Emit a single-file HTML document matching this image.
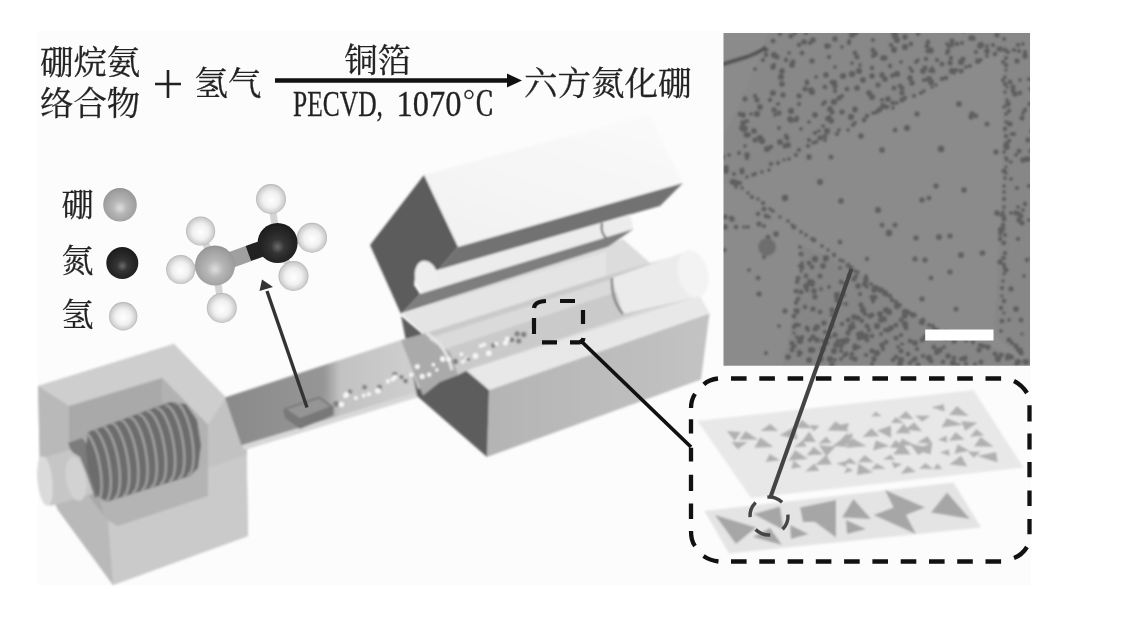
<!DOCTYPE html>
<html lang="zh"><head><meta charset="utf-8"><title>PECVD 六方氮化硼</title>
<style>
html,body{margin:0;padding:0;background:#fff;}
body{width:1132px;height:629px;overflow:hidden;}
svg{display:block;}
.t text{font-family:"Liberation Serif","Noto Serif CJK SC",serif;fill:#242424;stroke:#242424;stroke-width:0.3px;}
</style></head><body>
<svg width="1132" height="629" viewBox="0 0 1132 629">
<defs>
<radialGradient id="gB" cx="0.5" cy="0.55" r="0.6" fx="0.5" fy="0.6"><stop offset="0" stop-color="#dedede"/><stop offset="0.35" stop-color="#b6b6b6"/><stop offset="0.8" stop-color="#9e9e9e"/><stop offset="1" stop-color="#8a8a8a"/></radialGradient>
<radialGradient id="gN" cx="0.5" cy="0.55" r="0.6" fx="0.5" fy="0.6"><stop offset="0" stop-color="#6a6a6a"/><stop offset="0.3" stop-color="#333"/><stop offset="0.9" stop-color="#1c1c1c"/><stop offset="1" stop-color="#2a2a2a"/></radialGradient>
<radialGradient id="gH" cx="0.5" cy="0.5" r="0.55" fx="0.5" fy="0.55"><stop offset="0" stop-color="#ffffff"/><stop offset="0.5" stop-color="#f0f0f0"/><stop offset="0.82" stop-color="#cecece"/><stop offset="1" stop-color="#9a9a9a"/></radialGradient>
<linearGradient id="gFront" x1="0" y1="0" x2="1" y2="0"><stop offset="0" stop-color="#b4b4b4"/><stop offset="1" stop-color="#c3c3c3"/></linearGradient>
<linearGradient id="gLid" x1="0" y1="1" x2="0.6" y2="0"><stop offset="0" stop-color="#f1f1f1"/><stop offset="1" stop-color="#f9f9f9"/></linearGradient>
<linearGradient id="gTube" x1="0" y1="0" x2="1" y2="0"><stop offset="0" stop-color="#8a8a8a"/><stop offset="0.5" stop-color="#969696"/><stop offset="0.58" stop-color="#c2c2c2"/><stop offset="1" stop-color="#d0d0d0"/></linearGradient>
<filter id="soft" x="-5%" y="-5%" width="110%" height="110%"><feGaussianBlur stdDeviation="0.9"/></filter>
<filter id="soft2" x="-5%" y="-5%" width="110%" height="110%"><feGaussianBlur stdDeviation="1.0"/></filter>
<filter id="tsoft" x="-5%" y="-20%" width="110%" height="140%"><feGaussianBlur stdDeviation="0.45"/></filter>
<clipPath id="semclip"><rect x="723.5" y="33" width="306.5" height="332.7"/></clipPath>
</defs>
<rect x="38" y="31" width="993" height="554" fill="#fcfcfc"/>
<g clip-path="url(#semclip)"><g filter="url(#soft2)">
<rect x="715" y="25" width="325" height="350" fill="#8b8b8b"/>
<polygon points="768.6,31.3 1007.9,31.3 1005.2,48.0 735.3,184.4 721.3,181.6 721.3,139.9 746.4,89.8" fill="#888888" />
<polygon points="1003.5,31.3 1033.0,31.3 1033.0,365.2 994.0,334.6 1002.4,189.9" fill="#878787" />
<polygon points="802.0,245.6 852.1,267.9 930.0,326.3 1002.4,351.3 1033.0,365.2 782.6,365.2 796.5,301.2" fill="#868686" />
<g fill="#565656" opacity="0.8"><circle cx="851" cy="117" r="3.2"/><circle cx="855" cy="109" r="2.8"/><circle cx="774" cy="110" r="2.8"/><circle cx="949" cy="46" r="2.4"/><circle cx="747" cy="155" r="2.9"/><circle cx="733" cy="182" r="3.3"/><circle cx="873" cy="40" r="2.2"/><circle cx="791" cy="36" r="2.6"/><circle cx="852" cy="74" r="3.3"/><circle cx="924" cy="80" r="2.3"/><circle cx="804" cy="42" r="3.0"/><circle cx="964" cy="31" r="2.3"/><circle cx="742" cy="128" r="3.0"/><circle cx="799" cy="45" r="2.4"/><circle cx="755" cy="69" r="2.1"/><circle cx="739" cy="153" r="2.2"/><circle cx="882" cy="100" r="2.2"/><circle cx="931" cy="51" r="2.8"/><circle cx="755" cy="96" r="2.3"/><circle cx="905" cy="47" r="3.3"/><circle cx="782" cy="71" r="3.0"/><circle cx="816" cy="77" r="2.1"/><circle cx="747" cy="121" r="2.3"/><circle cx="894" cy="88" r="2.6"/><circle cx="774" cy="55" r="3.2"/><circle cx="956" cy="70" r="2.2"/><circle cx="842" cy="47" r="2.1"/><circle cx="923" cy="71" r="3.1"/><circle cx="892" cy="76" r="2.2"/><circle cx="928" cy="42" r="2.3"/><circle cx="897" cy="74" r="3.2"/><circle cx="780" cy="34" r="2.3"/><circle cx="849" cy="41" r="2.2"/><circle cx="827" cy="119" r="2.2"/><circle cx="726" cy="171" r="2.9"/><circle cx="997" cy="35" r="2.8"/><circle cx="743" cy="115" r="3.0"/><circle cx="831" cy="121" r="2.8"/><circle cx="744" cy="129" r="3.3"/><circle cx="888" cy="99" r="3.1"/><circle cx="745" cy="146" r="2.0"/><circle cx="787" cy="138" r="2.6"/><circle cx="795" cy="33" r="2.4"/><circle cx="916" cy="62" r="2.2"/><circle cx="815" cy="133" r="2.3"/><circle cx="832" cy="121" r="2.4"/><circle cx="760" cy="107" r="3.1"/><circle cx="770" cy="100" r="2.4"/><circle cx="783" cy="95" r="2.8"/><circle cx="863" cy="80" r="3.1"/><circle cx="971" cy="38" r="2.9"/><circle cx="885" cy="79" r="3.0"/><circle cx="852" cy="35" r="3.1"/><circle cx="789" cy="53" r="2.1"/><circle cx="902" cy="100" r="2.8"/><circle cx="778" cy="104" r="2.2"/><circle cx="926" cy="59" r="2.4"/><circle cx="820" cy="138" r="2.7"/><circle cx="981" cy="45" r="3.2"/><circle cx="928" cy="51" r="2.6"/><circle cx="829" cy="118" r="3.1"/><circle cx="780" cy="142" r="3.1"/><circle cx="745" cy="99" r="2.7"/><circle cx="729" cy="155" r="2.1"/><circle cx="951" cy="58" r="2.4"/><circle cx="947" cy="53" r="2.2"/><circle cx="993" cy="45" r="2.3"/><circle cx="872" cy="76" r="2.9"/><circle cx="811" cy="90" r="3.1"/><circle cx="779" cy="113" r="2.7"/><circle cx="895" cy="36" r="3.3"/><circle cx="869" cy="93" r="3.0"/><circle cx="883" cy="106" r="2.9"/><circle cx="740" cy="114" r="2.5"/><circle cx="799" cy="104" r="2.2"/><circle cx="812" cy="61" r="2.8"/><circle cx="987" cy="51" r="3.0"/><circle cx="786" cy="136" r="2.4"/><circle cx="823" cy="126" r="2.1"/><circle cx="931" cy="50" r="2.7"/><circle cx="793" cy="62" r="2.7"/><circle cx="847" cy="89" r="2.5"/><circle cx="873" cy="56" r="2.3"/><circle cx="788" cy="145" r="3.1"/><circle cx="976" cy="52" r="2.3"/><circle cx="930" cy="71" r="2.1"/><circle cx="948" cy="51" r="2.5"/><circle cx="918" cy="34" r="2.3"/><circle cx="999" cy="49" r="2.7"/><circle cx="918" cy="60" r="2.1"/><circle cx="879" cy="110" r="2.7"/><circle cx="763" cy="60" r="2.3"/><circle cx="987" cy="46" r="2.1"/><circle cx="855" cy="110" r="2.6"/><circle cx="894" cy="33" r="2.9"/><circle cx="963" cy="59" r="2.6"/><circle cx="777" cy="57" r="2.7"/><circle cx="726" cy="168" r="3.0"/><circle cx="902" cy="93" r="2.8"/><circle cx="952" cy="71" r="3.2"/><circle cx="928" cy="42" r="2.4"/><circle cx="856" cy="33" r="2.5"/><circle cx="912" cy="83" r="2.9"/><circle cx="933" cy="71" r="2.5"/><circle cx="829" cy="46" r="2.3"/><circle cx="743" cy="123" r="3.0"/><circle cx="734" cy="174" r="2.2"/><circle cx="857" cy="57" r="2.6"/><circle cx="897" cy="40" r="3.2"/><circle cx="842" cy="112" r="2.8"/><circle cx="826" cy="75" r="2.9"/><circle cx="882" cy="75" r="2.9"/><circle cx="806" cy="33" r="2.3"/><circle cx="736" cy="183" r="3.2"/><circle cx="742" cy="170" r="2.6"/><circle cx="791" cy="111" r="3.2"/><circle cx="894" cy="49" r="2.8"/><circle cx="852" cy="63" r="2.1"/><circle cx="873" cy="50" r="2.6"/><circle cx="796" cy="120" r="2.5"/><circle cx="932" cy="68" r="2.1"/><circle cx="900" cy="86" r="2.4"/><circle cx="937" cy="60" r="2.3"/><circle cx="973" cy="37" r="2.1"/><circle cx="799" cy="96" r="2.8"/><circle cx="751" cy="114" r="2.1"/><circle cx="746" cy="135" r="2.7"/><circle cx="902" cy="88" r="2.6"/><circle cx="782" cy="84" r="3.0"/><circle cx="962" cy="43" r="2.2"/><circle cx="942" cy="64" r="2.6"/><circle cx="827" cy="131" r="3.3"/><circle cx="815" cy="115" r="3.0"/><circle cx="827" cy="46" r="3.1"/><circle cx="883" cy="106" r="2.9"/><circle cx="911" cy="44" r="2.4"/><circle cx="802" cy="53" r="2.5"/><circle cx="755" cy="140" r="2.7"/><circle cx="812" cy="92" r="3.2"/><circle cx="825" cy="87" r="2.5"/><circle cx="835" cy="91" r="2.3"/><circle cx="883" cy="58" r="3.0"/><circle cx="952" cy="41" r="2.7"/><circle cx="947" cy="44" r="2.1"/><circle cx="746" cy="128" r="2.2"/><circle cx="792" cy="65" r="3.0"/><circle cx="834" cy="83" r="3.3"/><circle cx="842" cy="96" r="2.2"/><circle cx="829" cy="57" r="2.3"/><circle cx="843" cy="76" r="3.3"/><circle cx="754" cy="131" r="3.0"/><circle cx="773" cy="41" r="2.6"/><circle cx="774" cy="65" r="2.3"/><circle cx="786" cy="60" r="2.4"/><circle cx="771" cy="147" r="2.4"/><circle cx="859" cy="71" r="3.2"/><circle cx="860" cy="65" r="2.1"/><circle cx="832" cy="112" r="2.7"/><circle cx="910" cy="68" r="2.0"/><circle cx="857" cy="88" r="3.0"/><circle cx="766" cy="55" r="2.4"/><circle cx="875" cy="54" r="3.0"/><circle cx="722" cy="157" r="3.1"/><circle cx="957" cy="44" r="2.4"/><circle cx="927" cy="46" r="2.6"/><circle cx="747" cy="158" r="2.3"/><circle cx="877" cy="112" r="2.2"/><circle cx="810" cy="43" r="2.4"/><circle cx="824" cy="136" r="2.1"/><circle cx="834" cy="102" r="3.3"/><circle cx="925" cy="68" r="2.7"/><circle cx="853" cy="33" r="3.3"/><circle cx="950" cy="63" r="2.8"/><circle cx="805" cy="89" r="2.7"/><circle cx="807" cy="83" r="2.5"/><circle cx="912" cy="71" r="2.3"/><circle cx="931" cy="82" r="3.2"/><circle cx="748" cy="135" r="2.9"/><circle cx="773" cy="93" r="3.1"/><circle cx="891" cy="45" r="2.3"/><circle cx="766" cy="50" r="2.5"/><circle cx="742" cy="172" r="2.6"/><circle cx="832" cy="82" r="2.5"/><circle cx="896" cy="34" r="2.4"/><circle cx="819" cy="131" r="2.1"/><circle cx="830" cy="109" r="3.0"/><circle cx="767" cy="149" r="3.2"/><circle cx="878" cy="85" r="2.7"/><circle cx="762" cy="141" r="3.3"/><circle cx="961" cy="62" r="3.2"/><circle cx="901" cy="62" r="2.1"/><circle cx="791" cy="120" r="2.9"/><circle cx="825" cy="102" r="2.2"/><circle cx="894" cy="50" r="3.1"/><circle cx="790" cy="119" r="3.1"/><circle cx="775" cy="115" r="2.1"/><circle cx="910" cy="78" r="2.9"/><circle cx="855" cy="53" r="2.5"/><circle cx="885" cy="58" r="2.7"/><circle cx="797" cy="118" r="2.4"/><circle cx="905" cy="37" r="2.9"/><circle cx="893" cy="103" r="2.5"/><circle cx="839" cy="98" r="2.7"/><circle cx="872" cy="97" r="3.2"/><circle cx="813" cy="40" r="2.9"/><circle cx="809" cy="122" r="2.1"/><circle cx="757" cy="100" r="2.7"/><circle cx="835" cy="39" r="2.9"/><circle cx="872" cy="68" r="2.4"/><circle cx="835" cy="67" r="2.1"/><circle cx="785" cy="146" r="2.7"/><circle cx="980" cy="46" r="3.0"/><circle cx="757" cy="114" r="3.2"/><circle cx="807" cy="81" r="2.1"/><circle cx="835" cy="86" r="2.8"/><circle cx="781" cy="77" r="3.2"/><circle cx="978" cy="61" r="3.1"/><circle cx="823" cy="104" r="2.2"/><circle cx="779" cy="128" r="2.2"/><circle cx="974" cy="39" r="2.1"/><circle cx="929" cy="79" r="3.2"/><circle cx="760" cy="138" r="3.2"/><circle cx="849" cy="43" r="2.3"/><circle cx="809" cy="140" r="2.3"/><circle cx="773" cy="67" r="2.9"/><circle cx="890" cy="66" r="2.4"/><circle cx="801" cy="129" r="2.1"/><circle cx="873" cy="113" r="2.1"/><circle cx="893" cy="75" r="2.3"/><circle cx="952" cy="45" r="2.4"/><circle cx="1023" cy="113" r="2.1"/><circle cx="1015" cy="94" r="2.9"/><circle cx="1033" cy="43" r="2.4"/><circle cx="1023" cy="160" r="2.9"/><circle cx="1013" cy="91" r="2.5"/><circle cx="1019" cy="151" r="2.6"/><circle cx="1025" cy="204" r="2.4"/><circle cx="1027" cy="260" r="2.4"/><circle cx="1031" cy="89" r="2.7"/><circle cx="1000" cy="234" r="2.1"/><circle cx="1011" cy="289" r="2.7"/><circle cx="1025" cy="110" r="2.4"/><circle cx="1003" cy="225" r="2.4"/><circle cx="1022" cy="223" r="2.8"/><circle cx="1011" cy="179" r="2.1"/><circle cx="1025" cy="56" r="2.9"/><circle cx="1016" cy="213" r="2.7"/><circle cx="1003" cy="80" r="2.2"/><circle cx="1018" cy="207" r="2.1"/><circle cx="1017" cy="61" r="2.8"/><circle cx="1000" cy="262" r="2.8"/><circle cx="1025" cy="52" r="2.3"/><circle cx="1008" cy="104" r="3.0"/><circle cx="1023" cy="44" r="2.1"/><circle cx="1029" cy="79" r="2.3"/><circle cx="1006" cy="173" r="1.9"/><circle cx="1024" cy="276" r="2.1"/><circle cx="1004" cy="216" r="2.1"/><circle cx="1012" cy="343" r="2.2"/><circle cx="1018" cy="45" r="2.3"/><circle cx="1019" cy="51" r="2.2"/><circle cx="1021" cy="320" r="2.5"/><circle cx="1029" cy="186" r="2.3"/><circle cx="1027" cy="159" r="2.7"/><circle cx="1001" cy="215" r="2.0"/><circle cx="1012" cy="134" r="2.3"/><circle cx="1033" cy="258" r="2.8"/><circle cx="1008" cy="123" r="1.8"/><circle cx="1009" cy="340" r="2.7"/><circle cx="1004" cy="152" r="2.0"/><circle cx="1031" cy="151" r="2.7"/><circle cx="1022" cy="334" r="1.8"/><circle cx="1007" cy="160" r="1.9"/><circle cx="1028" cy="140" r="2.7"/><circle cx="1014" cy="50" r="2.3"/><circle cx="1011" cy="213" r="2.0"/><circle cx="1022" cy="118" r="2.7"/><circle cx="1020" cy="80" r="2.0"/><circle cx="1005" cy="269" r="2.3"/><circle cx="1009" cy="320" r="2.1"/><circle cx="1005" cy="147" r="2.1"/><circle cx="1019" cy="220" r="2.8"/><circle cx="1032" cy="131" r="2.6"/><circle cx="1030" cy="104" r="2.6"/><circle cx="1020" cy="350" r="2.8"/><circle cx="1003" cy="243" r="1.9"/><circle cx="1011" cy="162" r="1.9"/><circle cx="1009" cy="141" r="2.4"/><circle cx="1005" cy="84" r="2.3"/><circle cx="1013" cy="87" r="2.6"/><circle cx="1003" cy="62" r="2.2"/><circle cx="1010" cy="82" r="2.5"/><circle cx="1021" cy="216" r="2.6"/><circle cx="1008" cy="52" r="2.3"/><circle cx="1017" cy="188" r="2.2"/><circle cx="1004" cy="39" r="2.2"/><circle cx="1029" cy="220" r="2.1"/><circle cx="1020" cy="93" r="2.4"/><circle cx="1018" cy="350" r="2.2"/><circle cx="1016" cy="346" r="2.7"/><circle cx="1018" cy="239" r="2.3"/><circle cx="1010" cy="124" r="2.8"/><circle cx="1028" cy="159" r="2.9"/><circle cx="1014" cy="134" r="2.2"/><circle cx="1032" cy="81" r="2.0"/><circle cx="1003" cy="258" r="2.1"/><circle cx="1009" cy="111" r="2.4"/><circle cx="1019" cy="214" r="2.5"/><circle cx="1016" cy="309" r="3.0"/><circle cx="1007" cy="147" r="2.9"/><circle cx="1006" cy="270" r="2.6"/><circle cx="1021" cy="353" r="2.8"/><circle cx="1000" cy="239" r="2.4"/><circle cx="1016" cy="155" r="2.1"/><circle cx="1023" cy="210" r="2.1"/><circle cx="845" cy="284" r="2.2"/><circle cx="808" cy="330" r="2.1"/><circle cx="896" cy="338" r="2.6"/><circle cx="823" cy="349" r="3.1"/><circle cx="910" cy="341" r="2.5"/><circle cx="866" cy="336" r="3.1"/><circle cx="888" cy="330" r="2.8"/><circle cx="814" cy="291" r="2.9"/><circle cx="840" cy="268" r="2.0"/><circle cx="929" cy="358" r="3.3"/><circle cx="816" cy="328" r="2.5"/><circle cx="1016" cy="364" r="2.1"/><circle cx="966" cy="364" r="2.2"/><circle cx="983" cy="346" r="2.4"/><circle cx="881" cy="320" r="3.0"/><circle cx="826" cy="258" r="3.2"/><circle cx="846" cy="304" r="2.2"/><circle cx="840" cy="303" r="2.5"/><circle cx="799" cy="352" r="2.4"/><circle cx="802" cy="267" r="2.6"/><circle cx="886" cy="342" r="2.5"/><circle cx="797" cy="311" r="2.9"/><circle cx="825" cy="260" r="2.1"/><circle cx="872" cy="336" r="2.4"/><circle cx="835" cy="360" r="2.0"/><circle cx="915" cy="343" r="3.0"/><circle cx="975" cy="364" r="2.1"/><circle cx="880" cy="290" r="2.9"/><circle cx="852" cy="354" r="2.4"/><circle cx="806" cy="286" r="3.0"/><circle cx="835" cy="335" r="2.7"/><circle cx="809" cy="263" r="2.5"/><circle cx="863" cy="310" r="3.2"/><circle cx="834" cy="351" r="2.4"/><circle cx="885" cy="330" r="2.2"/><circle cx="851" cy="327" r="3.2"/><circle cx="872" cy="364" r="2.2"/><circle cx="937" cy="352" r="3.1"/><circle cx="896" cy="325" r="2.5"/><circle cx="900" cy="364" r="3.0"/><circle cx="861" cy="334" r="3.3"/><circle cx="883" cy="349" r="2.2"/><circle cx="841" cy="346" r="2.8"/><circle cx="845" cy="342" r="2.6"/><circle cx="917" cy="349" r="2.3"/><circle cx="853" cy="323" r="2.1"/><circle cx="922" cy="340" r="2.6"/><circle cx="843" cy="341" r="3.1"/><circle cx="821" cy="289" r="2.1"/><circle cx="812" cy="267" r="2.5"/><circle cx="940" cy="350" r="2.9"/><circle cx="832" cy="326" r="2.6"/><circle cx="862" cy="321" r="2.4"/><circle cx="934" cy="329" r="2.2"/><circle cx="815" cy="329" r="2.6"/><circle cx="815" cy="259" r="3.2"/><circle cx="832" cy="365" r="2.9"/><circle cx="860" cy="294" r="2.2"/><circle cx="897" cy="306" r="3.2"/><circle cx="869" cy="330" r="2.3"/><circle cx="896" cy="357" r="2.5"/><circle cx="893" cy="360" r="2.4"/><circle cx="844" cy="295" r="2.2"/><circle cx="988" cy="347" r="2.8"/><circle cx="874" cy="290" r="2.9"/><circle cx="1007" cy="359" r="2.0"/><circle cx="873" cy="301" r="2.4"/><circle cx="1026" cy="362" r="3.3"/><circle cx="882" cy="345" r="2.8"/><circle cx="958" cy="365" r="2.1"/><circle cx="881" cy="334" r="2.1"/><circle cx="824" cy="323" r="2.8"/><circle cx="998" cy="359" r="3.2"/><circle cx="810" cy="340" r="2.4"/><circle cx="805" cy="307" r="2.4"/><circle cx="837" cy="300" r="2.7"/><circle cx="898" cy="347" r="2.1"/><circle cx="884" cy="319" r="3.1"/><circle cx="810" cy="282" r="3.3"/><circle cx="944" cy="347" r="2.1"/><circle cx="905" cy="324" r="3.2"/><circle cx="908" cy="354" r="2.5"/><circle cx="858" cy="334" r="2.3"/><circle cx="875" cy="297" r="2.6"/><circle cx="872" cy="297" r="2.6"/><circle cx="795" cy="346" r="2.1"/><circle cx="807" cy="290" r="2.4"/><circle cx="931" cy="361" r="2.5"/><circle cx="858" cy="318" r="2.8"/><circle cx="861" cy="305" r="2.7"/><circle cx="806" cy="276" r="2.4"/><circle cx="854" cy="327" r="2.1"/><circle cx="865" cy="284" r="3.1"/><circle cx="797" cy="337" r="2.1"/><circle cx="788" cy="357" r="3.0"/><circle cx="953" cy="363" r="3.2"/><circle cx="801" cy="339" r="2.6"/><circle cx="812" cy="284" r="3.0"/><circle cx="812" cy="283" r="3.2"/><circle cx="923" cy="356" r="2.3"/><circle cx="886" cy="310" r="3.1"/><circle cx="813" cy="350" r="2.6"/><circle cx="877" cy="326" r="3.2"/><circle cx="906" cy="328" r="2.5"/><circle cx="870" cy="316" r="2.7"/><circle cx="880" cy="314" r="3.1"/><circle cx="872" cy="315" r="2.6"/><circle cx="848" cy="333" r="2.7"/><circle cx="897" cy="304" r="2.3"/><circle cx="859" cy="347" r="2.0"/><circle cx="821" cy="359" r="3.0"/><circle cx="832" cy="310" r="2.8"/><circle cx="813" cy="337" r="2.8"/><circle cx="1008" cy="356" r="2.9"/><circle cx="874" cy="359" r="2.9"/><circle cx="855" cy="348" r="2.9"/><circle cx="849" cy="275" r="2.0"/><circle cx="856" cy="276" r="2.2"/><circle cx="854" cy="279" r="2.7"/><circle cx="948" cy="356" r="3.0"/><circle cx="965" cy="358" r="2.7"/><circle cx="841" cy="359" r="2.1"/><circle cx="801" cy="353" r="2.1"/><circle cx="905" cy="312" r="3.3"/><circle cx="858" cy="286" r="2.9"/><circle cx="1018" cy="362" r="3.2"/><circle cx="905" cy="316" r="2.9"/><circle cx="913" cy="360" r="2.0"/><circle cx="811" cy="350" r="3.2"/><circle cx="913" cy="315" r="3.0"/><circle cx="800" cy="341" r="3.3"/><circle cx="867" cy="287" r="2.0"/><circle cx="867" cy="326" r="2.6"/><circle cx="841" cy="351" r="2.2"/><circle cx="820" cy="276" r="2.6"/><circle cx="842" cy="324" r="2.3"/><circle cx="841" cy="282" r="2.4"/><circle cx="802" cy="337" r="2.3"/><circle cx="837" cy="295" r="3.3"/><circle cx="875" cy="288" r="3.2"/><circle cx="817" cy="340" r="3.0"/><circle cx="867" cy="340" r="2.5"/><circle cx="854" cy="317" r="3.0"/><circle cx="902" cy="344" r="2.0"/><circle cx="799" cy="355" r="2.2"/><circle cx="834" cy="351" r="3.2"/><circle cx="961" cy="359" r="2.3"/><circle cx="817" cy="327" r="3.1"/><circle cx="964" cy="359" r="2.6"/><circle cx="851" cy="358" r="2.1"/><circle cx="829" cy="287" r="2.1"/><circle cx="813" cy="309" r="2.7"/><circle cx="925" cy="337" r="2.7"/><circle cx="860" cy="337" r="3.2"/><circle cx="865" cy="314" r="2.4"/><circle cx="981" cy="362" r="2.6"/><circle cx="934" cy="347" r="2.6"/><circle cx="830" cy="359" r="3.3"/><circle cx="823" cy="266" r="3.0"/><circle cx="838" cy="341" r="2.6"/><circle cx="848" cy="320" r="2.5"/><circle cx="901" cy="320" r="2.4"/><circle cx="872" cy="351" r="2.8"/><circle cx="887" cy="310" r="2.6"/><circle cx="866" cy="355" r="2.3"/><circle cx="910" cy="363" r="2.4"/><circle cx="825" cy="332" r="2.3"/><circle cx="807" cy="328" r="2.5"/><circle cx="943" cy="362" r="2.4"/><circle cx="846" cy="354" r="2.7"/><circle cx="889" cy="312" r="3.2"/><circle cx="855" cy="346" r="2.7"/><circle cx="836" cy="345" r="3.0"/><circle cx="954" cy="341" r="2.9"/><circle cx="827" cy="343" r="2.4"/><circle cx="844" cy="356" r="2.0"/><circle cx="1011" cy="357" r="2.8"/><circle cx="799" cy="325" r="2.1"/><circle cx="956" cy="336" r="3.3"/><circle cx="979" cy="350" r="2.7"/><circle cx="823" cy="341" r="2.3"/><circle cx="946" cy="338" r="2.9"/><circle cx="851" cy="268" r="2.8"/><circle cx="954" cy="358" r="2.4"/><circle cx="855" cy="359" r="2.8"/><circle cx="866" cy="279" r="2.7"/><circle cx="901" cy="335" r="2.3"/><circle cx="832" cy="315" r="2.3"/><circle cx="915" cy="359" r="2.8"/><circle cx="886" cy="294" r="2.3"/><circle cx="901" cy="360" r="2.2"/><circle cx="891" cy="328" r="3.0"/><circle cx="922" cy="322" r="3.2"/><circle cx="918" cy="365" r="2.7"/><circle cx="830" cy="337" r="2.1"/><circle cx="820" cy="312" r="2.4"/><circle cx="863" cy="337" r="2.8"/><circle cx="901" cy="360" r="3.2"/><circle cx="850" cy="329" r="2.6"/><circle cx="815" cy="297" r="2.7"/><circle cx="796" cy="302" r="2.0"/><circle cx="801" cy="292" r="2.6"/><circle cx="809" cy="360" r="3.1"/><circle cx="904" cy="316" r="2.4"/><circle cx="885" cy="293" r="3.2"/><circle cx="847" cy="340" r="2.9"/><circle cx="892" cy="300" r="2.4"/><circle cx="859" cy="338" r="2.6"/><circle cx="901" cy="351" r="2.6"/><circle cx="877" cy="353" r="3.3"/><circle cx="764" cy="226" r="2.2"/><circle cx="768" cy="237" r="2.6"/><circle cx="764" cy="209" r="2.6"/><circle cx="736" cy="227" r="2.4"/><circle cx="748" cy="227" r="2.1"/><circle cx="725" cy="217" r="2.8"/><circle cx="759" cy="224" r="2.7"/><circle cx="769" cy="217" r="2.1"/><circle cx="766" cy="216" r="2.5"/><circle cx="768" cy="237" r="2.1"/><circle cx="758" cy="214" r="2.4"/><circle cx="732" cy="219" r="2.9"/><circle cx="731" cy="218" r="2.4"/><circle cx="744" cy="227" r="1.9"/><circle cx="922" cy="299" r="2.8"/><circle cx="809" cy="157" r="2.9"/><circle cx="987" cy="124" r="2.6"/><circle cx="950" cy="272" r="2.7"/><circle cx="867" cy="259" r="2.4"/><circle cx="956" cy="309" r="2.6"/><circle cx="925" cy="260" r="2.7"/><circle cx="972" cy="114" r="2.9"/><circle cx="820" cy="182" r="3.2"/><circle cx="889" cy="233" r="3.4"/><circle cx="996" cy="152" r="2.8"/><circle cx="982" cy="253" r="2.6"/><circle cx="971" cy="117" r="2.8"/><circle cx="882" cy="225" r="2.5"/><circle cx="1001" cy="230" r="3.3"/><circle cx="915" cy="259" r="2.7"/><circle cx="861" cy="136" r="3.0"/><circle cx="831" cy="157" r="2.6"/><circle cx="895" cy="130" r="2.5"/><circle cx="964" cy="190" r="2.9"/><circle cx="939" cy="237" r="3.1"/><circle cx="922" cy="200" r="2.8"/><circle cx="841" cy="201" r="2.9"/><circle cx="878" cy="210" r="3.2"/><circle cx="976" cy="116" r="2.4"/><circle cx="950" cy="236" r="2.7"/><circle cx="961" cy="255" r="3.1"/><circle cx="936" cy="186" r="2.8"/><circle cx="961" cy="71" r="2.6"/><circle cx="997" cy="213" r="2.9"/><circle cx="840" cy="242" r="2.5"/><circle cx="895" cy="225" r="2.6"/><circle cx="917" cy="114" r="2.8"/><circle cx="882" cy="150" r="3.0"/><circle cx="941" cy="149" r="3.4"/><circle cx="907" cy="128" r="3.2"/><circle cx="931" cy="278" r="2.5"/><circle cx="959" cy="104" r="3.0"/><circle cx="785" cy="198" r="3.4"/><circle cx="983" cy="253" r="2.5"/><circle cx="916" cy="238" r="2.8"/><circle cx="929" cy="198" r="2.5"/><circle cx="758" cy="278" r="2.5"/><circle cx="725" cy="227" r="3.0"/><circle cx="749" cy="270" r="2.1"/><circle cx="766" cy="353" r="2.2"/><circle cx="759" cy="294" r="2.8"/><circle cx="764" cy="257" r="2.2"/><circle cx="776" cy="234" r="2.9"/><circle cx="724" cy="250" r="2.5"/><circle cx="785" cy="311" r="2.7"/><circle cx="779" cy="326" r="2.1"/><circle cx="1001" cy="48" r="1.8"/><circle cx="1001" cy="50" r="1.9"/><circle cx="995" cy="54" r="2.5"/><circle cx="987" cy="56" r="2.0"/><circle cx="981" cy="60" r="1.9"/><circle cx="977" cy="62" r="1.9"/><circle cx="970" cy="66" r="2.2"/><circle cx="966" cy="67" r="2.1"/><circle cx="962" cy="71" r="2.1"/><circle cx="954" cy="73" r="2.1"/><circle cx="946" cy="78" r="2.5"/><circle cx="942" cy="79" r="2.4"/><circle cx="936" cy="85" r="1.9"/><circle cx="932" cy="87" r="1.9"/><circle cx="924" cy="91" r="2.1"/><circle cx="921" cy="93" r="2.3"/><circle cx="914" cy="96" r="2.3"/><circle cx="905" cy="98" r="2.3"/><circle cx="905" cy="98" r="2.3"/><circle cx="897" cy="103" r="2.0"/><circle cx="893" cy="108" r="2.0"/><circle cx="887" cy="107" r="2.5"/><circle cx="881" cy="110" r="1.8"/><circle cx="874" cy="113" r="2.0"/><circle cx="867" cy="116" r="2.4"/><circle cx="864" cy="120" r="2.5"/><circle cx="855" cy="123" r="2.1"/><circle cx="853" cy="125" r="2.3"/><circle cx="848" cy="130" r="2.0"/><circle cx="839" cy="130" r="2.1"/><circle cx="837" cy="134" r="2.3"/><circle cx="826" cy="136" r="1.8"/><circle cx="825" cy="140" r="2.2"/><circle cx="816" cy="142" r="2.3"/><circle cx="813" cy="143" r="1.9"/><circle cx="808" cy="146" r="2.3"/><circle cx="799" cy="150" r="2.3"/><circle cx="796" cy="155" r="2.3"/><circle cx="789" cy="159" r="2.0"/><circle cx="784" cy="160" r="1.8"/><circle cx="778" cy="163" r="2.2"/><circle cx="771" cy="164" r="2.3"/><circle cx="769" cy="170" r="2.0"/><circle cx="762" cy="172" r="2.1"/><circle cx="755" cy="174" r="2.2"/><circle cx="753" cy="175" r="2.1"/><circle cx="747" cy="177" r="1.9"/><circle cx="740" cy="183" r="2.2"/><circle cx="736" cy="187" r="2.0"/><circle cx="742" cy="188" r="1.9"/><circle cx="748" cy="193" r="1.9"/><circle cx="752" cy="197" r="2.3"/><circle cx="758" cy="199" r="1.9"/><circle cx="763" cy="203" r="2.3"/><circle cx="770" cy="209" r="2.0"/><circle cx="773" cy="211" r="2.0"/><circle cx="780" cy="217" r="1.9"/><circle cx="788" cy="221" r="2.1"/><circle cx="792" cy="225" r="1.8"/><circle cx="794" cy="227" r="2.6"/><circle cx="801" cy="232" r="2.1"/><circle cx="806" cy="235" r="2.1"/><circle cx="812" cy="239" r="2.2"/><circle cx="814" cy="240" r="2.5"/><circle cx="822" cy="246" r="2.1"/><circle cx="828" cy="250" r="1.9"/><circle cx="834" cy="255" r="2.4"/><circle cx="840" cy="260" r="2.1"/><circle cx="843" cy="261" r="2.1"/><circle cx="848" cy="265" r="2.5"/><circle cx="855" cy="271" r="2.1"/><circle cx="858" cy="272" r="1.9"/><circle cx="866" cy="276" r="2.1"/><circle cx="866" cy="280" r="2.5"/><circle cx="871" cy="284" r="2.0"/><circle cx="878" cy="288" r="2.0"/><circle cx="882" cy="290" r="2.4"/><circle cx="887" cy="295" r="2.1"/><circle cx="890" cy="296" r="2.4"/><circle cx="896" cy="302" r="2.3"/><circle cx="900" cy="305" r="2.1"/><circle cx="908" cy="312" r="2.5"/><circle cx="911" cy="314" r="1.9"/><circle cx="915" cy="315" r="2.1"/><circle cx="923" cy="320" r="2.5"/><circle cx="929" cy="325" r="2.2"/><circle cx="933" cy="326" r="2.2"/><circle cx="937" cy="330" r="2.4"/><circle cx="945" cy="333" r="1.9"/><circle cx="946" cy="332" r="2.6"/><circle cx="955" cy="336" r="2.3"/><circle cx="962" cy="337" r="2.5"/><circle cx="966" cy="341" r="1.9"/><circle cx="973" cy="342" r="2.4"/><circle cx="980" cy="345" r="2.2"/><circle cx="984" cy="346" r="2.3"/><circle cx="988" cy="348" r="2.2"/><circle cx="995" cy="354" r="2.5"/><circle cx="1001" cy="355" r="2.6"/><circle cx="1009" cy="357" r="2.5"/><circle cx="1012" cy="357" r="2.0"/><circle cx="1024" cy="361" r="1.9"/><circle cx="1005" cy="50" r="2.4"/><circle cx="1006" cy="58" r="2.2"/><circle cx="1006" cy="65" r="2.4"/><circle cx="1006" cy="70" r="1.8"/><circle cx="1005" cy="77" r="1.9"/><circle cx="1007" cy="87" r="1.8"/><circle cx="1005" cy="92" r="1.9"/><circle cx="1007" cy="100" r="1.9"/><circle cx="1004" cy="107" r="2.0"/><circle cx="1006" cy="114" r="2.0"/><circle cx="1006" cy="122" r="2.0"/><circle cx="1005" cy="129" r="2.4"/><circle cx="1006" cy="136" r="2.3"/><circle cx="1006" cy="144" r="2.6"/><circle cx="1006" cy="148" r="2.0"/><circle cx="1006" cy="158" r="2.0"/><circle cx="1006" cy="167" r="1.8"/><circle cx="1004" cy="171" r="2.6"/><circle cx="1005" cy="178" r="2.0"/><circle cx="1004" cy="186" r="1.9"/><circle cx="1004" cy="192" r="2.1"/><circle cx="1004" cy="199" r="2.3"/><circle cx="1004" cy="207" r="2.0"/><circle cx="1003" cy="212" r="1.9"/><circle cx="1004" cy="219" r="2.5"/><circle cx="1004" cy="229" r="1.8"/><circle cx="1005" cy="235" r="2.2"/><circle cx="1004" cy="243" r="2.4"/><circle cx="1005" cy="253" r="2.3"/><circle cx="1004" cy="258" r="2.2"/><circle cx="1004" cy="265" r="2.4"/><circle cx="1004" cy="274" r="1.8"/><circle cx="1003" cy="281" r="1.9"/><circle cx="1002" cy="288" r="2.2"/><circle cx="1002" cy="296" r="1.8"/><circle cx="1004" cy="301" r="2.4"/><circle cx="1001" cy="308" r="2.4"/><circle cx="1004" cy="313" r="1.8"/><circle cx="1002" cy="321" r="2.5"/><circle cx="1001" cy="331" r="2.0"/><circle cx="800" cy="247" r="2.1"/><circle cx="801" cy="254" r="2.6"/><circle cx="802" cy="263" r="2.0"/><circle cx="800" cy="266" r="2.3"/><circle cx="801" cy="271" r="1.8"/><circle cx="798" cy="278" r="2.5"/><circle cx="797" cy="282" r="2.4"/><circle cx="796" cy="291" r="2.6"/><circle cx="798" cy="299" r="2.4"/><circle cx="796" cy="303" r="2.2"/><circle cx="795" cy="310" r="1.9"/><circle cx="794" cy="316" r="2.6"/><circle cx="796" cy="325" r="2.5"/><circle cx="794" cy="327" r="2.4"/><circle cx="794" cy="333" r="1.8"/><circle cx="792" cy="343" r="2.6"/><circle cx="793" cy="347" r="2.4"/><circle cx="792" cy="350" r="2.5"/></g>
<circle cx="767" cy="247" r="9" fill="#6e6e6e"/>
<path d="M722 64.5 L748 56.5 Q760 52 766 47" stroke="#555" stroke-width="4" fill="none"/>
</g></g>
<rect x="925.2" y="329.5" width="68.3" height="11" fill="#fff"/>
<g class="t" filter="url(#tsoft)">
<text x="40" y="74" font-size="33.4" >硼烷氨</text>
<text x="40" y="115" font-size="33.4" >络合物</text>
<text x="194.5" y="95.3" font-size="33.4" >氢气</text>
<text x="344.5" y="72" font-size="33.2" >铜箔</text>
<text x="293" y="116" font-size="36" textLength="90" lengthAdjust="spacingAndGlyphs">PECVD,</text>
<text x="396.5" y="116" font-size="36" textLength="65" lengthAdjust="spacingAndGlyphs">1070</text>
<text x="462" y="115" font-size="33" >℃</text>
<text x="524" y="95" font-size="33.5" >六方氮化硼</text>
<text x="61.5" y="216" font-size="32" >硼</text>
<text x="61.5" y="272" font-size="32" >氮</text>
<text x="61.5" y="325.5" font-size="32" >氢</text>
</g>
<path d="M155 84 H181 M168 70 V98" stroke="#222" stroke-width="2.6" fill="none"/>
<path d="M275 80.5 H510" stroke="#111" stroke-width="4.4" fill="none"/>
<polygon points="507,73.5 522,80.5 507,87.5" fill="#111"/>
<g filter="url(#tsoft)">
<circle cx="120" cy="204.8" r="16.8" fill="url(#gB)"/>
<circle cx="122.3" cy="263" r="16" fill="url(#gN)"/>
<circle cx="123.2" cy="316.3" r="14.2" fill="url(#gH)"/>
<line x1="215" y1="265.6" x2="200.6" y2="231" stroke="#d4d4d4" stroke-width="7" stroke-linecap="butt"/>
<line x1="215" y1="265.6" x2="180.7" y2="269.5" stroke="#d4d4d4" stroke-width="7" stroke-linecap="butt"/>
<line x1="215" y1="265.6" x2="221.8" y2="308" stroke="#d4d4d4" stroke-width="7" stroke-linecap="butt"/>
<line x1="277.6" y1="243" x2="271" y2="199" stroke="#d4d4d4" stroke-width="7" stroke-linecap="butt"/>
<line x1="277.6" y1="243" x2="312" y2="237.7" stroke="#d4d4d4" stroke-width="7" stroke-linecap="butt"/>
<line x1="277.6" y1="243" x2="293.5" y2="276" stroke="#d4d4d4" stroke-width="7" stroke-linecap="butt"/>
<circle cx="200.6" cy="231" r="14.6" fill="url(#gH)"/>
<circle cx="180.7" cy="269.5" r="14.6" fill="url(#gH)"/>
<circle cx="271" cy="199" r="15" fill="url(#gH)"/>
<circle cx="312" cy="237.7" r="15" fill="url(#gH)"/>
<line x1="215" y1="265.6" x2="248.3" y2="253.60000000000002" stroke="#a0a0a0" stroke-width="16" stroke-linecap="butt"/>
<line x1="248.3" y1="253.60000000000002" x2="277.6" y2="243" stroke="#222" stroke-width="16" stroke-linecap="butt"/>
<circle cx="215" cy="265.6" r="20" fill="url(#gB)"/>
<circle cx="277.6" cy="243" r="20" fill="url(#gN)"/>
<circle cx="221.8" cy="308" r="15" fill="url(#gH)"/>
<circle cx="293.5" cy="276" r="15" fill="url(#gH)"/>
</g>
<g filter="url(#soft)">
<polygon points="38.0,386.0 174.0,344.0 225.0,399.0 246.0,418.0 248.0,536.0 113.0,585.0 58.0,510.0 40.0,470.0" fill="#c4c4c4" />
<polygon points="38.0,386.0 174.0,344.0 246.0,418.0 110.0,460.0" fill="#cecece" />
<polygon points="38.0,386.0 69.0,406.0 110.0,460.0 113.0,585.0 58.0,510.0 40.0,470.0" fill="#b9b9b9" />
<polygon points="69.0,406.0 162.0,378.0 208.0,425.0 208.0,496.0 118.0,526.0 104.0,516.0 69.0,470.0" fill="#a9a9a9" />
<polygon points="162.0,378.0 208.0,425.0 208.0,496.0 162.0,450.0" fill="#b2b2b2" />
<polygon points="100.0,500.0 208.0,462.0 208.0,496.0 118.0,526.0 104.0,516.0" fill="#b4b4b4" />
<polygon points="118.0,526.0 208.0,496.0 208.0,425.0 225.0,399.0 246.0,418.0 248.0,536.0 113.0,585.0 108.0,521.0" fill="#cacaca" />
<polygon points="208.0,425.0 225.0,399.0 246.0,418.0 247.0,455.0 208.0,468.0" fill="#c2c2c2" />
<polygon points="45.0,457.0 90.0,444.0 100.0,492.0 50.0,506.0" fill="#c6c6c6" />
<ellipse cx="45" cy="481" rx="7.5" ry="25" fill="#dadada" transform="rotate(-6 45 481)"/>
<ellipse cx="76" cy="479" rx="10" ry="22" fill="#d2d2d2" transform="rotate(-10 76 479)"/>
<polygon points="68.0,443.0 82.0,438.0 92.0,450.0 103.0,494.0 95.0,498.0 86.0,472.0 80.0,457.0 72.0,452.0" fill="#7c7c7c" />
<polygon points="88.0,432.0 170.0,402.0 186.0,404.0 197.0,420.0 201.0,445.0 198.0,468.0 190.0,476.0 106.0,502.0 96.0,494.0 88.0,470.0 86.0,448.0" fill="#6c6c6c" />
<clipPath id="coilclip"><polygon points="88,432 170,402 186,404 197,420 201,445 198,468 190,476 106,502 96,494 88,470 86,448"/></clipPath>
<g clip-path="url(#coilclip)">
<path d="M89.0 431.0 A11 37 0 0 1 89.0 505.0" fill="none" stroke="#a2a2a2" stroke-width="2.4" transform="rotate(-10 89.0 468.0)"/>
<path d="M98.2 428.1 A11 37 0 0 1 98.2 502.1" fill="none" stroke="#a2a2a2" stroke-width="2.4" transform="rotate(-10 98.2 465.1)"/>
<path d="M107.4 425.2 A11 37 0 0 1 107.4 499.2" fill="none" stroke="#a2a2a2" stroke-width="2.4" transform="rotate(-10 107.4 462.2)"/>
<path d="M116.6 422.3 A11 37 0 0 1 116.6 496.3" fill="none" stroke="#a2a2a2" stroke-width="2.4" transform="rotate(-10 116.6 459.3)"/>
<path d="M125.8 419.4 A11 37 0 0 1 125.8 493.4" fill="none" stroke="#a2a2a2" stroke-width="2.4" transform="rotate(-10 125.8 456.4)"/>
<path d="M135.0 416.5 A11 37 0 0 1 135.0 490.5" fill="none" stroke="#a2a2a2" stroke-width="2.4" transform="rotate(-10 135.0 453.5)"/>
<path d="M144.2 413.6 A11 37 0 0 1 144.2 487.6" fill="none" stroke="#a2a2a2" stroke-width="2.4" transform="rotate(-10 144.2 450.6)"/>
<path d="M153.4 410.7 A11 37 0 0 1 153.4 484.7" fill="none" stroke="#a2a2a2" stroke-width="2.4" transform="rotate(-10 153.4 447.7)"/>
<path d="M162.6 407.8 A11 37 0 0 1 162.6 481.8" fill="none" stroke="#a2a2a2" stroke-width="2.4" transform="rotate(-10 162.6 444.8)"/>
<path d="M171.8 404.9 A11 37 0 0 1 171.8 478.9" fill="none" stroke="#a2a2a2" stroke-width="2.4" transform="rotate(-10 171.8 441.9)"/>
<path d="M181.0 402.0 A11 37 0 0 1 181.0 476.0" fill="none" stroke="#a2a2a2" stroke-width="2.4" transform="rotate(-10 181.0 439.0)"/>
</g>
<polygon points="225,397.5 401,340 423,395.5 243,450" fill="url(#gTube)"/>
<path d="M242.3 447.6 L422.3 393.1" stroke="#d8d8d8" stroke-width="5" fill="none"/>
<polygon points="283.0,409.0 319.0,396.5 333.6,406.4 333.6,415.0 300.0,429.0 285.0,418.0" fill="#787878" />
<polygon points="287.0,409.5 319.0,398.5 330.0,406.5 300.0,418.0" fill="#959595" />
<polygon points="402.0,314.0 623.0,239.0 710.0,316.0 489.0,391.0" fill="#dcdcdc" />
<polygon points="402.0,314.0 606.0,252.0 606.0,276.0 426.0,333.0" fill="#e4e4e4" />
<polygon points="489,390 709.5,313.5 701,379.5 487,457" fill="url(#gFront)"/>
<polygon points="401.0,316.0 489.0,390.0 487.0,457.0 417.0,396.0" fill="#5d5d5d" />
<polygon points="426.0,333.0 606.0,276.0 640.0,266.0 690.0,252.0 700.0,296.0 640.0,312.0 470.0,369.0 458.0,375.0 418.0,389.0 401.0,341.5" fill="#cacaca" />
<polygon points="430.0,338.0 640.0,270.0 640.0,284.0 436.0,352.0" fill="#dadada" />
<polygon points="401.0,340.0 423.0,395.5 440.0,382.0 458.0,375.0 450.0,352.0 430.0,340.0 426.0,333.0" fill="#aaaaaa" />
<path d="M426 333 Q446 345 452 370" stroke="#e6e6e6" stroke-width="3" fill="none"/>
<polygon points="489.0,390.0 709.5,313.5 700.0,296.0 468.0,370.0" fill="#e8e8e8" />
<polygon points="612.0,278.0 690.0,250.0 698.0,297.0 623.0,314.0" fill="#ebebeb" />
<ellipse cx="693" cy="274" rx="15" ry="24" fill="#f3f3f3" transform="rotate(-14 693 274)"/>
<path d="M612 278 Q611 300 623 314" stroke="#7a7a7a" stroke-width="2.2" fill="none"/>
<polygon points="424,175 649,114 683,183 458,247" fill="url(#gLid)"/>
<polygon points="424.0,175.0 370.0,245.0 401.0,314.0 420.0,294.0 414.0,285.0 416.0,272.0 438.0,270.0 458.0,247.0" fill="#5c5c5c" />
<polygon points="458.0,247.0 683.0,183.0 660.0,206.0 630.0,214.5 438.0,270.0" fill="#727272" />
<polygon points="438.0,270.0 630.0,214.5 633.5,229.0 453.0,283.7 420.0,294.0 426.0,278.0" fill="#ececec" />
<ellipse cx="426.5" cy="277.5" rx="11.5" ry="17" fill="#eeeeee" transform="rotate(-12 426.5 277.5)"/>
<polygon points="420.0,294.0 453.0,283.7 633.5,229.0 608.5,246.6 402.0,313.0" fill="#7e7e7e" />
<path d="M602 223 Q600 232 606 238" stroke="#666" stroke-width="2" fill="none"/>
</g>
<g filter="url(#soft)"><circle cx="336.0" cy="403.9" r="2.8" fill="#808080"/><circle cx="341.5" cy="404.5" r="2.7" fill="#f6f6f6"/><circle cx="346.3" cy="394.8" r="2.8" fill="#f6f6f6"/><circle cx="345.5" cy="395.9" r="2.3" fill="#f6f6f6"/><circle cx="350.0" cy="391.7" r="2.1" fill="#808080"/><circle cx="355.9" cy="398.1" r="2.1" fill="#f6f6f6"/><circle cx="364.6" cy="387.2" r="2.3" fill="#808080"/><circle cx="363.8" cy="395.6" r="2.1" fill="#f6f6f6"/><circle cx="369.0" cy="394.1" r="2.2" fill="#f6f6f6"/><circle cx="379.5" cy="387.2" r="2.5" fill="#808080"/><circle cx="377.8" cy="390.8" r="2.9" fill="#f6f6f6"/><circle cx="388.0" cy="381.2" r="2.3" fill="#f6f6f6"/><circle cx="392.9" cy="379.2" r="2.2" fill="#f6f6f6"/><circle cx="394.8" cy="374.5" r="2.6" fill="#808080"/><circle cx="395.0" cy="377.1" r="2.4" fill="#f6f6f6"/><circle cx="401.5" cy="377.1" r="2.1" fill="#808080"/><circle cx="405.6" cy="381.0" r="2.3" fill="#808080"/><circle cx="411.3" cy="374.7" r="2.3" fill="#f6f6f6"/><circle cx="417.3" cy="366.6" r="2.6" fill="#f6f6f6"/><circle cx="422.2" cy="376.4" r="2.7" fill="#f6f6f6"/><circle cx="429.1" cy="374.7" r="2.4" fill="#f6f6f6"/><circle cx="433.4" cy="364.8" r="2.0" fill="#f6f6f6"/><circle cx="436.8" cy="369.8" r="1.9" fill="#f6f6f6"/><circle cx="442.9" cy="359.7" r="2.4" fill="#f6f6f6"/><circle cx="442.7" cy="358.8" r="2.8" fill="#f6f6f6"/><circle cx="448.7" cy="359.2" r="2.2" fill="#f6f6f6"/><circle cx="455.3" cy="361.4" r="2.6" fill="#808080"/><circle cx="461.4" cy="354.2" r="2.0" fill="#f6f6f6"/><circle cx="462.8" cy="361.8" r="2.1" fill="#f6f6f6"/><circle cx="467.3" cy="359.1" r="2.6" fill="#f6f6f6"/><circle cx="468.2" cy="359.3" r="1.9" fill="#808080"/><circle cx="475.5" cy="356.0" r="2.9" fill="#f6f6f6"/><circle cx="480.6" cy="346.0" r="2.0" fill="#f6f6f6"/><circle cx="484.1" cy="344.6" r="2.2" fill="#f6f6f6"/><circle cx="488.8" cy="353.2" r="2.9" fill="#f6f6f6"/><circle cx="493.3" cy="345.5" r="2.2" fill="#808080"/><circle cx="496.4" cy="343.7" r="2.0" fill="#f6f6f6"/><circle cx="505.4" cy="342.9" r="2.5" fill="#f6f6f6"/><circle cx="507.3" cy="339.0" r="2.4" fill="#f6f6f6"/><circle cx="512.0" cy="339.9" r="2.3" fill="#808080"/><circle cx="518.7" cy="341.0" r="2.5" fill="#808080"/><circle cx="517.2" cy="333.8" r="2.6" fill="#808080"/><circle cx="523.7" cy="334.4" r="2.6" fill="#808080"/><circle cx="533.7" cy="331.1" r="2.5" fill="#f6f6f6"/></g>
<path d="M534 308 Q534.5 301.5 546 301 M560 301 H575 M583 310 V324 M534 318 V334 M542 342.4 H557 M570 342.4 H579 Q583 342 583.5 338" stroke="#111" stroke-width="4.2" fill="none"/>
<path d="M580 340 L691 447" stroke="#111" stroke-width="3.8" fill="none"/>
<path d="M307 407.5 L267 291" stroke="#333" stroke-width="3.4" fill="none"/>
<polygon points="262,279.5 259.5,291 273,287" fill="#333"/>
<g filter="url(#soft)">
<polygon points="697.5,421.0 973.5,390.0 1023.5,467.5 751.0,498.0" fill="#e8e8e8" />
<polygon points="704.5,511.0 953.5,482.5 981.0,527.5 729.0,553.5" fill="#e4e4e4" />
<polygon points="715.0,515.0 756.0,527.5 736.0,544.0" fill="#a6a6a6" />
<polygon points="753.5,514.0 780.0,506.5 783.5,530.0" fill="#a6a6a6" />
<polygon points="753.0,537.0 770.0,528.0 782.0,545.0" fill="#a6a6a6" />
<polygon points="800.0,507.5 836.0,500.0 836.0,537.5 815.0,522.0 803.0,522.0" fill="#a6a6a6" />
<polygon points="853.5,499.0 871.0,519.0 842.0,517.5" fill="#a6a6a6" />
<polygon points="846.0,520.0 866.0,529.0 847.0,534.0" fill="#a6a6a6" />
<polygon points="885.0,490.0 925.0,507.5 906.0,515.0 916.0,534.0 873.5,515.0 893.5,507.5" fill="#a6a6a6" />
<polygon points="947.0,492.5 970.0,519.0 931.0,512.5" fill="#a6a6a6" />
<polygon points="790.0,525.0 808.5,534.0 791.0,539.0" fill="#a6a6a6" />
<polygon points="740.9,431.9 734.8,440.9 726.7,431.1" fill="#b0b0b0" />
<polygon points="747.7,442.1 737.7,449.2 731.5,442.0" fill="#b0b0b0" />
<polygon points="758.0,439.4 739.2,439.8 745.5,431.1" fill="#b0b0b0" />
<polygon points="760.3,437.2 773.5,446.9 754.4,447.7" fill="#b0b0b0" />
<polygon points="780.1,460.3 765.6,461.9 769.7,453.9" fill="#b0b0b0" />
<polygon points="770.4,423.7 778.2,431.0 760.1,430.9" fill="#b0b0b0" />
<polygon points="801.7,467.2 791.0,468.8 793.8,460.5" fill="#b0b0b0" />
<polygon points="779.6,435.3 794.9,426.4 797.4,439.5" fill="#b0b0b0" />
<polygon points="802.4,440.6 807.1,446.6 794.0,447.3" fill="#b0b0b0" />
<polygon points="808.0,459.1 788.4,460.8 795.1,450.1" fill="#b0b0b0" />
<polygon points="814.1,463.6 819.5,470.7 805.1,471.5" fill="#b0b0b0" />
<polygon points="801.8,419.7 812.3,428.2 796.0,428.0" fill="#b0b0b0" />
<polygon points="809.2,431.5 816.1,442.0 801.3,442.0" fill="#b0b0b0" />
<polygon points="813.6,446.7 823.4,454.6 806.4,455.5" fill="#b0b0b0" />
<polygon points="826.2,454.7 831.9,464.4 815.1,464.9" fill="#b0b0b0" />
<polygon points="819.7,425.8 813.9,431.4 809.8,424.8" fill="#b0b0b0" />
<polygon points="826.4,436.4 831.6,443.1 818.3,443.8" fill="#b0b0b0" />
<polygon points="835.6,446.4 826.5,456.4 818.9,445.3" fill="#b0b0b0" />
<polygon points="835.9,463.6 847.1,460.7 846.1,466.9" fill="#b0b0b0" />
<polygon points="853.2,470.8 844.1,473.5 847.4,467.0" fill="#b0b0b0" />
<polygon points="835.4,421.3 849.3,431.3 827.6,430.5" fill="#b0b0b0" />
<polygon points="847.3,433.1 852.9,444.5 836.3,444.3" fill="#b0b0b0" />
<polygon points="842.7,438.3 847.2,447.1 832.4,445.9" fill="#b0b0b0" />
<polygon points="850.1,457.7 857.0,464.2 842.5,463.3" fill="#b0b0b0" />
<polygon points="873.0,472.4 856.8,474.9 858.5,463.2" fill="#b0b0b0" />
<polygon points="837.2,425.3 849.2,423.1 846.7,430.4" fill="#b0b0b0" />
<polygon points="843.0,436.4 852.6,432.9 852.2,438.9" fill="#b0b0b0" />
<polygon points="852.6,438.3 866.7,446.3 845.8,448.0" fill="#b0b0b0" />
<polygon points="864.8,454.9 874.0,462.3 857.6,462.3" fill="#b0b0b0" />
<polygon points="876.6,463.2 886.1,468.8 871.0,469.5" fill="#b0b0b0" />
<polygon points="871.5,427.9 879.6,436.3 862.5,436.9" fill="#b0b0b0" />
<polygon points="889.7,445.9 873.0,450.6 875.7,440.2" fill="#b0b0b0" />
<polygon points="890.7,454.6 895.0,460.1 882.6,459.5" fill="#b0b0b0" />
<polygon points="902.4,463.9 894.5,468.5 891.3,462.0" fill="#b0b0b0" />
<polygon points="875.6,411.5 881.8,416.3 871.4,416.5" fill="#b0b0b0" />
<polygon points="876.9,430.5 891.1,425.6 891.3,437.9" fill="#b0b0b0" />
<polygon points="895.5,439.7 905.6,448.6 889.8,447.8" fill="#b0b0b0" />
<polygon points="902.3,443.0 910.7,454.6 892.9,454.4" fill="#b0b0b0" />
<polygon points="916.0,471.7 900.5,474.1 907.6,465.8" fill="#b0b0b0" />
<polygon points="904.1,423.2 891.0,423.1 895.6,417.1" fill="#b0b0b0" />
<polygon points="904.0,423.4 910.6,433.4 895.5,433.3" fill="#b0b0b0" />
<polygon points="914.7,445.1 898.1,446.0 902.1,438.5" fill="#b0b0b0" />
<polygon points="930.1,447.6 918.3,455.3 909.8,443.7" fill="#b0b0b0" />
<polygon points="925.4,463.0 933.3,469.0 919.1,468.8" fill="#b0b0b0" />
<polygon points="906.0,411.0 913.7,419.3 898.2,418.2" fill="#b0b0b0" />
<polygon points="914.2,422.2 922.3,431.6 904.7,429.8" fill="#b0b0b0" />
<polygon points="927.5,436.0 932.8,443.9 917.2,442.8" fill="#b0b0b0" />
<polygon points="914.5,449.8 932.4,442.8 930.6,454.5" fill="#b0b0b0" />
<polygon points="937.4,463.3 942.5,469.0 933.3,469.3" fill="#b0b0b0" />
<polygon points="930.4,415.8 922.3,421.8 914.9,415.4" fill="#b0b0b0" />
<polygon points="937.8,439.8 946.8,435.4 947.1,442.4" fill="#b0b0b0" />
<polygon points="939.8,452.4 949.0,449.4 949.7,456.0" fill="#b0b0b0" />
<polygon points="961.2,455.4 967.3,466.4 949.3,464.4" fill="#b0b0b0" />
<polygon points="931.3,407.4 943.8,403.9 944.8,411.4" fill="#b0b0b0" />
<polygon points="963.3,424.8 941.4,427.5 946.7,418.3" fill="#b0b0b0" />
<polygon points="955.7,432.0 964.6,439.6 948.8,441.0" fill="#b0b0b0" />
<polygon points="969.5,450.7 954.4,453.7 957.6,444.3" fill="#b0b0b0" />
<polygon points="980.5,451.8 973.8,458.1 967.8,451.4" fill="#b0b0b0" />
<polygon points="957.0,405.9 968.8,415.9 948.9,414.9" fill="#b0b0b0" />
<polygon points="977.5,422.7 965.3,431.1 961.2,420.9" fill="#b0b0b0" />
<polygon points="976.4,429.0 984.1,435.4 969.8,437.0" fill="#b0b0b0" />
<polygon points="993.7,446.7 973.9,446.4 980.7,437.1" fill="#b0b0b0" />
<polygon points="977.1,455.9 996.1,451.9 997.7,462.5" fill="#b0b0b0" />
</g>
<circle cx="769" cy="516" r="19" fill="none" stroke="#444" stroke-width="3.4" stroke-dasharray="16 13.85" transform="rotate(-95 769 516)"/>
<path d="M851.5 269 L770.5 497" stroke="#444" stroke-width="4" fill="none"/>
<path d="M731.0 378.5 h15.6 M759.3 378.5 h15.6 M787.6 378.5 h15.6 M815.8 378.5 h15.6 M844.1 378.5 h15.6 M872.4 378.5 h15.6 M900.7 378.5 h15.6 M929.0 378.5 h15.6 M957.2 378.5 h15.6 M985.5 378.5 h15.6 M731.0 561.5 h15.6 M759.3 561.5 h15.6 M787.6 561.5 h15.6 M815.8 561.5 h15.6 M844.1 561.5 h15.6 M872.4 561.5 h15.6 M900.7 561.5 h15.6 M929.0 561.5 h15.6 M957.2 561.5 h15.6 M985.5 561.5 h15.6 M1029.5 405.3 V421.5 M1029.5 433.5 V449.5 M1029.5 462 V477.3 M1029.5 490.5 V506 M1029.5 519 V534.3 M691 419.3 V433.6 M691 447.7 V461.5 M691 474.7 V491 M691 503.5 V519 M718 378.5 Q709 379.5 703.8 384.3 M695 393.8 Q691 400 691 408 M1014 381 Q1022 385 1027 393 M1014 558 Q1022 555 1027 547 M691 531 Q691 541 695 546 M703.5 556 Q710 560.5 718.5 561.5" stroke="#111" stroke-width="4.3" fill="none"/>
</svg>
</body></html>
